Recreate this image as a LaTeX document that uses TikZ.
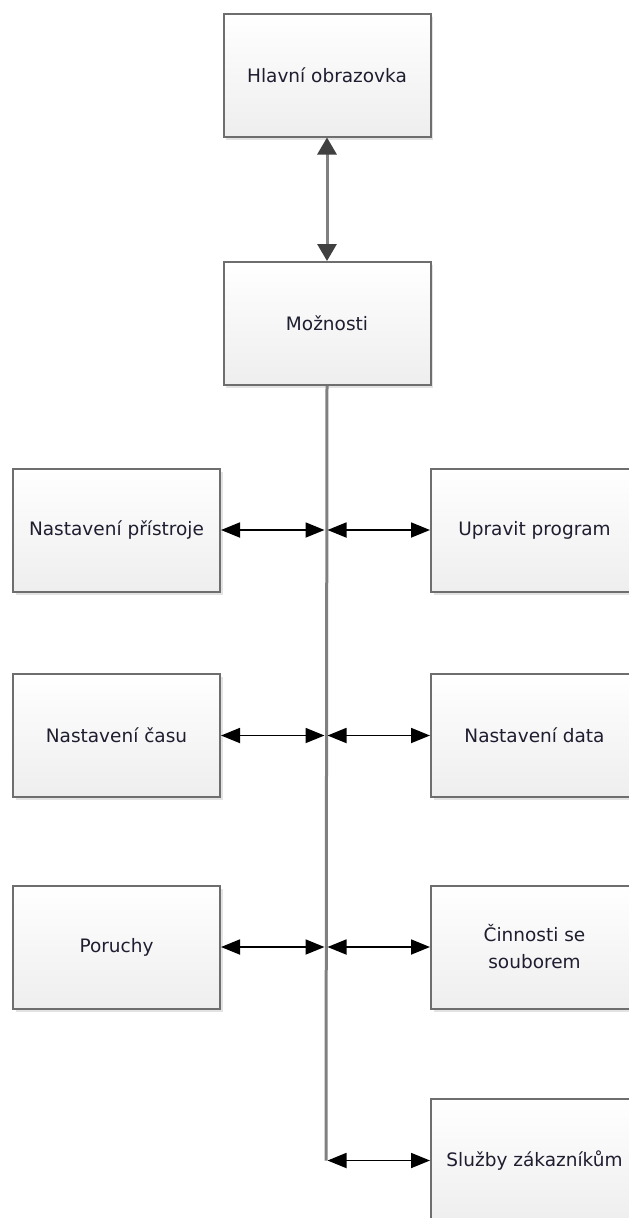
\documentclass[tikz,border=0pt]{standalone}
\usepackage{fontspec}
\setmainfont{DejaVu Sans}
\usetikzlibrary{arrows.meta,shadows}
\definecolor{boxline}{HTML}{6E6E6E}
\definecolor{boxbot}{HTML}{EEEEEE}
\definecolor{txt}{HTML}{1E1E30}
\definecolor{spine}{HTML}{808080}
\definecolor{gtip}{HTML}{404040}
\begin{document}
\begin{tikzpicture}[x=1pt,y=-1pt,
  box/.style={draw=boxline, line width=2pt, top color=white, bottom color=boxbot,
    minimum width=207pt, minimum height=123pt, inner sep=0pt, align=center,
    font=\fontsize{18.5}{27}\selectfont, text=txt,
    drop shadow={opacity=0.22, shadow xshift=2.5pt, shadow yshift=-3pt}},
  link/.style={line width=1.8pt, black, {Triangle[length=19pt,width=15pt]}-{Triangle[length=19pt,width=15pt]}},
  vlink/.style={line width=3pt, spine, {Triangle[length=17pt,width=19pt,fill=gtip,color=gtip]}-{Triangle[length=17pt,width=19pt,fill=gtip,color=gtip]}},
  spineline/.style={line width=3pt, spine}]
\useasboundingbox (0,0) rectangle (629,1218);
\fill[white] (0,0) rectangle (629,1218);

\node[box] (top) at (327,75) {Hlavní obrazovka};
\node[box] (mo) at (327,323.5) {Možnosti};

\node[box] (L1) at (116.5,530) {Nastavení přístroje};
\node[box] (L2) at (116.5,735.5) {Nastavení času};
\node[box] (L3) at (116.5,947) {Poruchy};

\node[box] (R1) at (534.5,530) {Upravit program};
\node[box] (R2) at (534.5,735.5) {Nastavení data};
\node[box] (R3) at (534.5,947) {Činnosti se\\souborem};
\node[box] (R4) at (534.5,1160.5) {Služby zákazníkům};

\coordinate (s1l) at (324.5,530);
\coordinate (s1r) at (327.5,530);
\coordinate (s2l) at (324.5,735.5);
\coordinate (s2r) at (327.5,735.5);
\coordinate (s3l) at (324.5,947);
\coordinate (s3r) at (327.5,947);
\coordinate (s4) at (326,1160.5);
\coordinate (s4r) at (327.5,1160.5);

\draw[vlink] (top.south) -- (mo.north);
\draw[spineline] (mo.south) -- (s4);

\draw[link] (L1.east) -- (s1l);
\draw[link] (s1r) -- (R1.west);
\draw[link] (L2.east) -- (s2l);
\draw[link] (s2r) -- (R2.west);
\draw[link] (L3.east) -- (s3l);
\draw[link] (s3r) -- (R3.west);
\draw[link] (s4r) -- (R4.west);
\end{tikzpicture}
\end{document}
